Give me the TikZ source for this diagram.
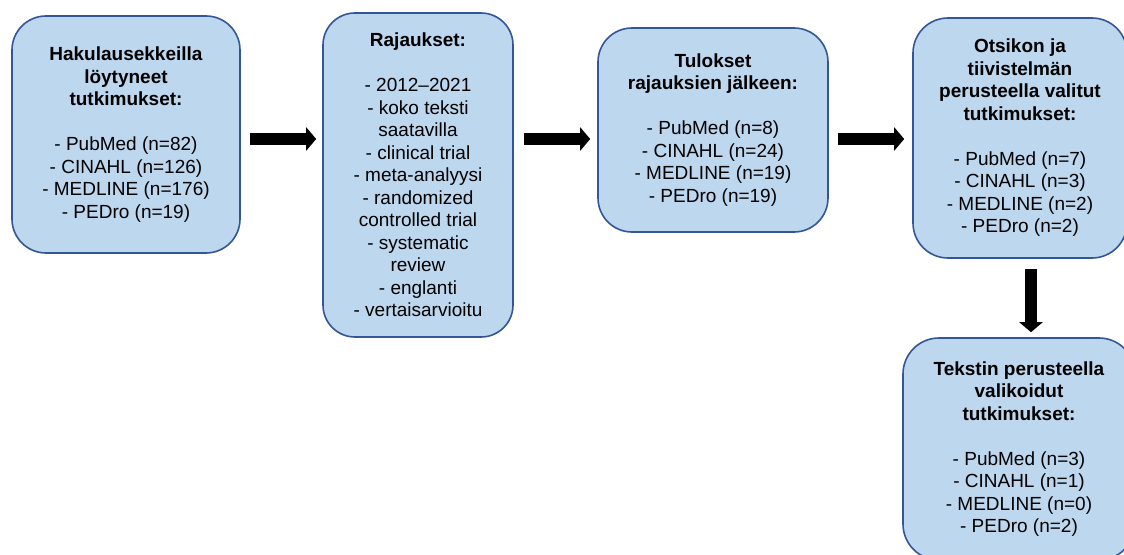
\documentclass[tikz,border=0pt]{standalone}
\usepackage{fontspec}
\setmainfont{Liberation Sans}
\usetikzlibrary{arrows.meta}
\definecolor{boxfill}{RGB}{189,215,238}
\definecolor{boxline}{RGB}{52,86,150}
\begin{document}
\begin{tikzpicture}[x=1pt,y=-1pt,
 flowbox/.style={draw=boxline, fill=boxfill, line width=1.6pt, rounded corners=34pt, align=center, inner sep=0pt, font=\fontsize{19}{22.5}\selectfont, text=black},
 blockarrow/.style={line width=12pt, -{Triangle[width=23pt,length=10pt]}, draw=black}]
\useasboundingbox (0,0) rectangle (1124,554);
\node[flowbox, minimum width=228pt, minimum height=237pt] (b1) at (126,134.5)
 {\textbf{Hakulausekkeilla}\\\textbf{löytyneet}\\\textbf{tutkimukset:}\\[22.5pt]- PubMed (n=82)\\- CINAHL (n=126)\\- MEDLINE (n=176)\\- PEDro (n=19)};
\node[flowbox, minimum width=190pt, minimum height=324pt, rounded corners=32pt] (b2) at (418,175)
 {\textbf{Rajaukset:}\\[22.5pt]- 2012–2021\\- koko teksti\\saatavilla\\- clinical trial\\- meta-analyysi\\- randomized\\controlled trial\\- systematic\\review\\- englanti\\- vertaisarvioitu};
\node[flowbox, minimum width=230pt, minimum height=204pt] (b3) at (713,130)
 {\textbf{Tulokset}\\\textbf{rajauksien jälkeen:}\\[22.5pt]- PubMed (n=8)\\- CINAHL (n=24)\\- MEDLINE (n=19)\\- PEDro (n=19)};
\node[flowbox, minimum width=214pt, minimum height=240pt, rounded corners=35pt] (b4) at (1020,138)
 {\textbf{Otsikon ja}\\\textbf{tiivistelmän}\\\textbf{perusteella valitut}\\\textbf{tutkimukset:}\\[22.5pt]- PubMed (n=7)\\- CINAHL (n=3)\\- MEDLINE (n=2)\\- PEDro (n=2)};
\node[flowbox, minimum width=232pt, minimum height=222pt, rounded corners=36pt] (b5) at (1019,449)
 {\textbf{Tekstin perusteella}\\\textbf{valikoidut}\\\textbf{tutkimukset:}\\[22.5pt]- PubMed (n=3)\\- CINAHL (n=1)\\- MEDLINE (n=0)\\- PEDro (n=2)};
\draw[blockarrow, shorten <=9pt, shorten >=6pt] (b1.east |- 0,139) -- (b2.west |- 0,139);
\draw[blockarrow, shorten <=10pt, shorten >=7pt] (b2.east |- 0,139) -- (b3.west |- 0,139);
\draw[blockarrow, shorten <=9pt, shorten >=8pt] (b3.east |- 0,139) -- (b4.west |- 0,139);
\draw[blockarrow, shorten <=10pt, shorten >=5pt] (b4.south -| 1031,0) -- (b5.north -| 1031,0);
\end{tikzpicture}
\end{document}
